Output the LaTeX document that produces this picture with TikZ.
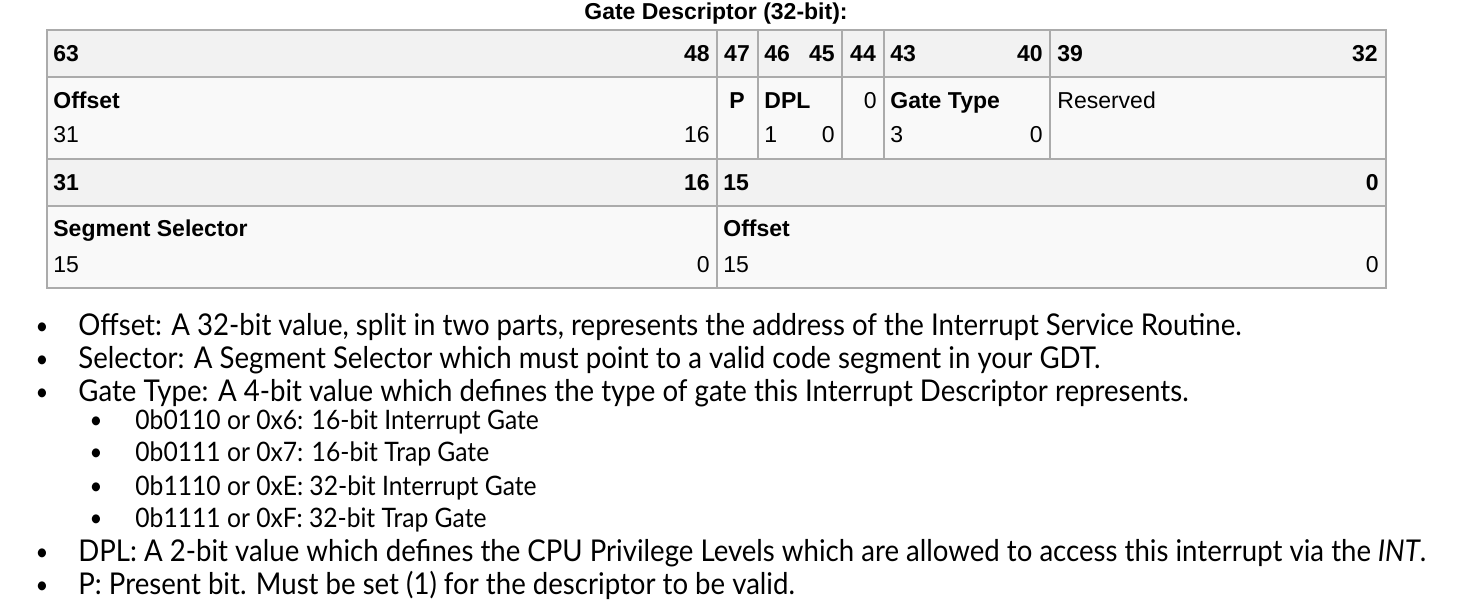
\documentclass[tikz,border=0pt]{standalone}
\usepackage{fontspec}
\setmainfont{Liberation Sans}
\newfontfamily\gill[FakeStretch=0.92]{Lato}
\definecolor{bordc}{HTML}{ABABAB}
\definecolor{headc}{HTML}{F2F2F2}
\definecolor{datac}{HTML}{F9F9F9}
\tikzset{
  cell/.style={inner sep=0pt, font=\fontsize{11.5}{13}\selectfont},
  hd/.style={cell, font=\fontsize{11.5}{13}\selectfont\bfseries},
  bl/.style={inner sep=0pt, anchor=base west, font=\gill\fontsize{15}{17}\selectfont},
  sbl/.style={inner sep=0pt, anchor=base west, font=\gill\fontsize{13.4}{15}\selectfont},
  dot/.style={inner sep=0pt, anchor=base, font=\gill\fontsize{12}{14}\selectfont},
  grid/.style={draw=bordc, line width=1pt}
}
\begin{document}
\begin{tikzpicture}[x=0.5pt,y=-0.5pt]
\useasboundingbox (0,0) rectangle (1469,608);
% fills
\fill[headc] (47,30) rectangle (1386,77);
\fill[datac] (47,77) rectangle (1386,159);
\fill[headc] (47,159) rectangle (1386,206);
\fill[datac] (47,206) rectangle (1386,288);
% grid
\draw[grid] (47,30) rectangle (1386,288);
\draw[grid] (47,77) -- (1386,77);
\draw[grid] (47,159) -- (1386,159);
\draw[grid] (47,206) -- (1386,206);
\foreach \x in {717,758,842,884,1050} \draw[grid] (\x,30) -- (\x,159);
\draw[grid] (717,159) -- (717,288);
% title
\node[hd, anchor=base] (title) at (716,20) {Gate Descriptor (32-bit):};
% table 1 header
\node[hd, anchor=base west] (h63) at (53,62) {63};
\node[hd, anchor=base east] (h48) at (710,62) {48};
\node[hd, anchor=base] (h47) at (737,62) {47};
\node[hd, anchor=base west] (h46) at (764,62) {46};
\node[hd, anchor=base east] (h45) at (835,62) {45};
\node[hd, anchor=base] (h44) at (863,62) {44};
\node[hd, anchor=base west] (h43) at (890,62) {43};
\node[hd, anchor=base east] (h40) at (1043,62) {40};
\node[hd, anchor=base west] (h39) at (1057,62) {39};
\node[hd, anchor=base east] (h32) at (1378,62) {32};
% table 1 data
\node[hd, anchor=base west] (offA) at (53,109) {Offset};
\node[cell, anchor=base west] (o31) at (53,143) {31};
\node[cell, anchor=base east] (o16) at (710,143) {16};
\node[hd, anchor=base] (pbit) at (737,109) {P};
\node[hd, anchor=base west] (dpl) at (764,109) {DPL};
\node[cell, anchor=base west] (d1) at (764,143) {1};
\node[cell, anchor=base east] (d0) at (835,143) {0};
\node[cell, anchor=base east] (zero) at (877,109) {0};
\node[hd, anchor=base west] (gt) at (890,109) {Gate Type};
\node[cell, anchor=base west] (g3) at (890,143) {3};
\node[cell, anchor=base east] (g0) at (1043,143) {0};
\node[cell, anchor=base west] (res) at (1057,109) {Reserved};
% table 2 header
\node[hd, anchor=base west] (k31) at (53,191) {31};
\node[hd, anchor=base east] (k16) at (710,191) {16};
\node[hd, anchor=base west] (k15) at (723,191) {15};
\node[hd, anchor=base east] (k0) at (1379,191) {0};
% table 2 data
\node[hd, anchor=base west] (seg) at (53,237) {Segment Selector};
\node[cell, anchor=base west] (s15) at (53,273) {15};
\node[cell, anchor=base east] (s0) at (710,273) {0};
\node[hd, anchor=base west] (offB) at (723,237) {Offset};
\node[cell, anchor=base west] (f15) at (723,273) {15};
\node[cell, anchor=base east] (f0) at (1379,273) {0};
% bullets
\node[dot] (b1) at (42,335) {•};
\node[bl] (t1) at (78,336) {Offset: A 32-bit value, split in two parts, represents the address of the Interrupt Service Routine.};
\node[dot] (b2) at (42,368) {•};
\node[bl] (t2) at (78,369) {Selector: A Segment Selector which must point to a valid code segment in your GDT.};
\node[dot] (b3) at (42,401) {•};
\node[bl] (t3) at (78,402) {Gate Type: A 4-bit value which defines the type of gate this Interrupt Descriptor represents.};
\node[dot] (s1b) at (96,429) {•};
\node[sbl] (s1) at (135,430) {0b0110 or 0x6: 16-bit Interrupt Gate};
\node[dot] (s2b) at (96,461) {•};
\node[sbl] (s2) at (135,462) {0b0111 or 0x7: 16-bit Trap Gate};
\node[dot] (s3b) at (96,495) {•};
\node[sbl] (s3) at (135,496) {0b1110 or 0xE: 32-bit Interrupt Gate};
\node[dot] (s4b) at (96,527) {•};
\node[sbl] (s4) at (135,528) {0b1111 or 0xF: 32-bit Trap Gate};
\node[dot] (b4) at (42,561) {•};
\node[bl] (t4) at (78,562) {DPL: A 2-bit value which defines the CPU Privilege Levels which are allowed to access this interrupt via the \textit{INT}.};
\node[dot] (b5) at (42,594) {•};
\node[bl] (t5) at (78,595) {P: Present bit. Must be set (1) for the descriptor to be valid.};
\end{tikzpicture}
\end{document}
